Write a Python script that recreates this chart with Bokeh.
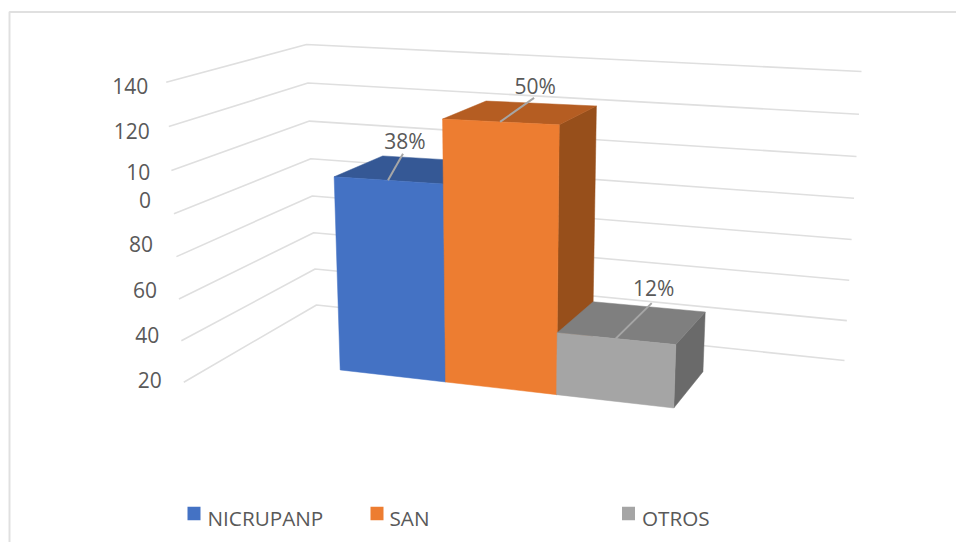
import numpy as np
from bokeh.core.properties import value
from bokeh.embed import file_html
from bokeh.models import Range1d
from bokeh.plotting import figure
from bokeh.resources import INLINE

# ---- chart data ----
categories = ["NICRUPANP", "SAN", "OTROS"]
bar_values = [96, 126, 30]
bar_labels = ["38%", "50%", "12%"]
axis_values = [140, 120, 100, 80, 60, 40, 20, 0]
axis_labels = ["140", "120", "10", "0", "80", "60", "40", "20"]

# ---- colours (front, top, side) ----
front_colors = ["#4472C4", "#ED7D31", "#A5A5A5"]
top_colors = ["#355895", "#B55D22", "#7F7F7F"]
side_colors = ["#2F5289", "#974F1B", "#6A6A6A"]
TEXT = "#595959"
GRID = "#DFDFDF"
FONT = "Open Sans"

# ---- layout: the camera of the 3D chart, in window pixels ----
calib = [((0, 0, 0), (339, 369)), ((1, 0, 0), (445, 381)), ((2, 0, 0), (556.7, 394.3)),
         ((3, 0, 0), (673.3, 408.3)), ((3, 0, 1), (702.7, 371.7)), ((0, 96, 0), (333.3, 176.7)),
         ((0, 96, 1), (382.7, 156)), ((1, 96, 0), (443, 186)), ((1, 126, 0), (442.7, 117.3)),
         ((2, 126, 0), (558.7, 124)), ((1, 126, 1), (485, 99.3)), ((2, 126, 1), (595.7, 106)),
         ((2, 30, 0), (556.7, 331.7)), ((3, 30, 0), (675, 343.3)), ((2, 30, 1), (593.3, 300.7)),
         ((3, 30, 1), (704, 311.7))]
A, b = [], []
for (X, Y, Z), (u, v) in calib:
    A.append([X, Y, Z, 1, 0, 0, 0, 0, -u * X, -u * Y, -u * Z]); b.append(u)
    A.append([0, 0, 0, 0, X, Y, Z, 1, -v * X, -v * Y, -v * Z]); b.append(v)
sol = np.linalg.lstsq(np.array(A, float), np.array(b, float), rcond=None)[0]
P = np.append(sol, 1.0).reshape(3, 4)


def project(X, Y, Z):
    q = P @ np.array([X, Y, Z, 1.0])
    return q[0] / q[2], q[1] / q[2]


# wall frame: (bottom, top) of front-left edge, back corner, right end
wall = [((183.3, 381.7), (165.7, 81.7)), ((316, 304.5), (306, 44)), ((844, 360), (861, 71))]
W = 0.96


def wall_point(edge, val):
    t = val / max(axis_values)
    (bx, by), (tx, ty) = wall[edge]
    d = t * W + (1 - t)
    return (t * W * tx + (1 - t) * bx) / d, (t * W * ty + (1 - t) * by) / d


p = figure(width=956, height=542, x_range=Range1d(0, 956), y_range=Range1d(542, 0),
           output_backend="svg", toolbar_location=None, min_border=0)
p.axis.visible = False
p.grid.visible = False
p.outline_line_color = None
p.background_fill_color = "white"

# picture frame (top and left only, as in the reference)
p.line([9, 9, 956], [542, 11.5, 11.5], line_color="#E0E0E0", line_width=2)

# gridlines
xs, ys = [], []
for val in axis_values:
    pts = [wall_point(e, val) for e in range(3)]
    xs.append([q[0] for q in pts])
    ys.append([q[1] for q in pts])
p.multi_line(xs, ys, line_color=GRID, line_width=1.6)

# axis labels
label_dy = [4, 4, 2, -13.5, -12.5, -8.5, -5.5, -2.5]
label_dx = [-18, -19, -21, -23, -23.5, -22, -22, -22]
p.text([x[0] for x in xs], [y[0] for y in ys], text=axis_labels,
       x_offset=label_dx, y_offset=label_dy, text_align="right", text_baseline="middle",
       text_font=value(FONT), text_font_size="21px", text_color=TEXT)

# bars
for i, val in enumerate(bar_values):
    x0, x1 = i, i + 1
    side = [project(x1, 0, 0), project(x1, 0, 1), project(x1, val, 1), project(x1, val, 0)]
    top = [project(x0, val, 0), project(x1, val, 0), project(x1, val, 1), project(x0, val, 1)]
    fr = [project(x0, 0, 0), project(x1, 0, 0), project(x1, val, 0), project(x0, val, 0)]
    for face, col in ((side, side_colors[i]), (top, top_colors[i]), (fr, front_colors[i])):
        p.patch([q[0] for q in face], [q[1] for q in face], fill_color=col, line_color=col, line_width=0.5)

# leaders and data labels
leader_end = [(15, -26.5), (34, -24), (36, -35.5)]
label_gap = [(17, -39.5), (35, -36), (38, -51)]
lx, ly, tx, ty = [], [], [], []
for i, val in enumerate(bar_values):
    sx, sy = project(i + 0.5, val, 0)
    lx.append([sx, sx + leader_end[i][0]])
    ly.append([sy, sy + leader_end[i][1]])
    tx.append(sx + label_gap[i][0])
    ty.append(sy + label_gap[i][1])
p.multi_line(lx, ly, line_color="#A6A6A6", line_width=2)
p.text(tx, ty, text=bar_labels, text_align="center", text_baseline="middle",
       text_font=value(FONT), text_font_size="21px", text_color=TEXT)

# legend
leg_x = [193.5, 376.5, 628]
leg_y = [513, 513, 513]
txt_x = [207, 389, 641.5]
p.rect(leg_x, leg_y, width=13, height=13.5, fill_color=front_colors, line_color=None)
p.text(txt_x, [517.5] * 3, text=categories, text_baseline="middle",
       text_font=value(FONT), text_font_size="20.7px", text_color=TEXT)

open("out.html", "w").write(file_html(p, INLINE))
